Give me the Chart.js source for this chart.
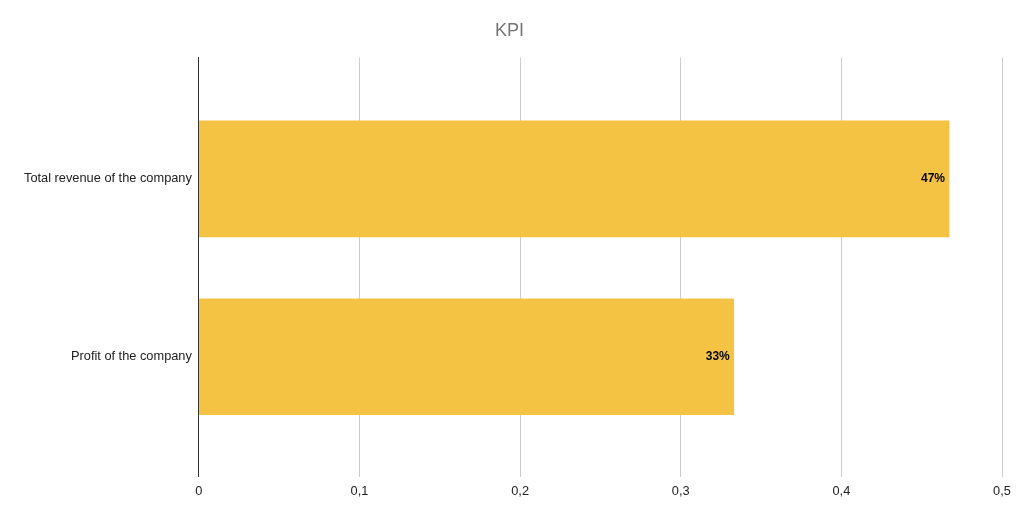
<!DOCTYPE html>
<html>
<head>
<meta charset="utf-8">
<script src="https://cdn.jsdelivr.net/npm/chart.js@4"></script>
<style>
  html, body { margin: 0; padding: 0; background: #fff; }
  #wrap { width: 1024px; height: 517px; }
</style>
</head>
<body>
<div id="wrap"><canvas id="kpiChart"></canvas></div>
<script>
var categories = ["Total revenue of the company", "Profit of the company"];
var kpiValues = [0.467, 0.333];
var kpiLabels = ["47%", "33%"];
var xTicks = [0, 0.1, 0.2, 0.3, 0.4, 0.5];

// draws the percent label just inside the end of each bar
var barLabels = {
    id: 'barLabels',
    afterDatasetsDraw: function(chart){
        var ctx = chart.ctx;
        var meta = chart.getDatasetMeta(0);
        ctx.save();
        ctx.font = 'bold 12px "Liberation Sans", Arial, sans-serif';
        ctx.fillStyle = '#000';
        ctx.textAlign = 'right';
        ctx.textBaseline = 'middle';
        meta.data.forEach(function(bar, i){
            ctx.fillText(kpiLabels[i], bar.x - 4, bar.y);
        });
        ctx.restore();
    }
};

// bars sit on index positions 0 and 1 of a linear y axis
var points = kpiValues.map(function(v, i){ return { x: v, y: i }; });

var target = document.getElementById("kpiChart");
var kpiChart = new Chart(target, {
    type: 'bar',
    data: {
        datasets: [{
            data: points,
            backgroundColor: "#F4C344",
            borderWidth: 0,
            barThickness: 116
        }]
    },
    options: {
        indexAxis: 'y',
        responsive: true,
        maintainAspectRatio: false,
        animation: false,
        layout: { padding: { left: 17, right: 22, top: 0, bottom: 11 } },
        plugins: {
            legend: { display: false },
            tooltip: { enabled: false },
            title: {
                display: true,
                text: 'KPI',
                color: '#757575',
                font: { family: '"Liberation Sans", Arial, sans-serif', size: 18, weight: 'normal' },
                padding: { top: 20, bottom: 16 }
            }
        },
        scales: {
            x: {
                min: 0,
                max: 0.5,
                afterBuildTicks: function(axis){
                    axis.ticks = xTicks.map(function(v){ return { value: v }; });
                },
                grid: { color: '#cccccc', drawTicks: false },
                border: { display: false },
                ticks: {
                    color: '#222',
                    padding: 7,
                    font: { family: '"Liberation Sans", Arial, sans-serif', size: 12.8 },
                    callback: function(v){ return String(Math.round(v * 10) / 10).replace('.', ','); }
                }
            },
            y: {
                type: 'linear',
                reverse: true,
                offset: false,
                min: -0.682,
                max: 1.674,
                afterBuildTicks: function(axis){
                    axis.ticks = categories.map(function(c, i){ return { value: i }; });
                },
                grid: { display: false, drawTicks: false, offset: false },
                border: { display: true, color: '#333333', width: 1 },
                ticks: {
                    color: '#222',
                    padding: 7,
                    font: { family: '"Liberation Sans", Arial, sans-serif', size: 12.8 },
                    callback: function(v){ return categories[v]; }
                }
            }
        }
    },
    plugins: [barLabels]
});
</script>
</body>
</html>
